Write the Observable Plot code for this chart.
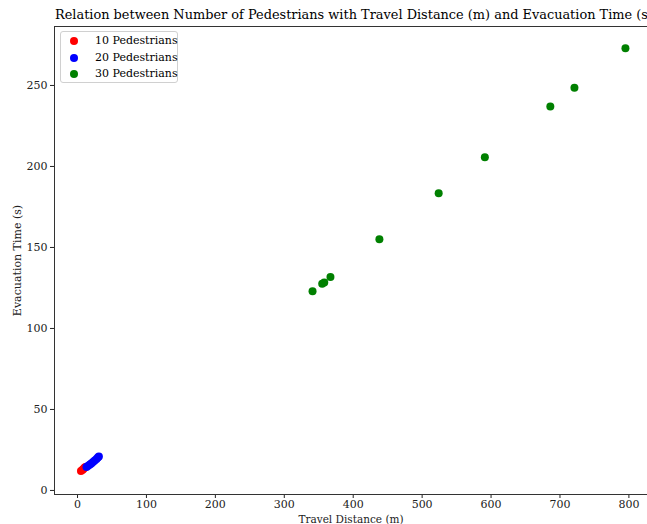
<!DOCTYPE html>
<html>
<head>
<meta charset="utf-8">
<script src="https://cdn.jsdelivr.net/npm/d3@7"></script>
<script src="https://cdn.jsdelivr.net/npm/@observablehq/plot@0.6"></script>
<style>
  html, body { margin: 0; padding: 0; background: #fff; }
  #wrap { position: relative; width: 647px; height: 524px; overflow: hidden; font-family: "DejaVu Serif", serif; }
  #title { position: absolute; left: 55px; top: 7px; font-size: 12.9px; white-space: nowrap; color: #000; }
  #legend { position: absolute; left: 60px; top: 31px; width: 116px; height: 50px; border: 1px solid #d0d0d0; border-radius: 3px; background: rgba(255,255,255,0.8); font-size: 11px; }
  .item { position: absolute; left: 0; height: 14px; line-height: 14px; white-space: nowrap; }
  .item .sw { position: absolute; left: 9px; top: 3px; width: 8px; height: 8px; border-radius: 50%; }
  .item .lb { position: absolute; left: 34px; top: 0; color: #000; }
</style>
</head>
<body>
<div id="wrap">
  <div id="chart"></div>
  <div id="title"></div>
  <div id="legend"></div>
</div>
<script>
// ---- data ----
const titleText = "Relation between Number of Pedestrians with Travel Distance (m) and Evacuation Time (s)";
const seriesNames = ["10 Pedestrians", "20 Pedestrians", "30 Pedestrians"];
const seriesColors = ["red", "blue", "green"];

const dist10 = [5, 7, 8.5, 10, 11.5];
const time10 = [12, 12.7, 13.3, 14, 14.5];

const dist20 = [13, 15.5, 18, 20, 22.5, 25, 27.5, 29.5, 31];
const time20 = [14.5, 15.3, 16, 16.6, 17.5, 18.5, 19.4, 20.3, 21];

const dist30 = [341, 355, 358, 367, 438, 524, 591, 686, 721, 795];
const time30 = [123, 127.6, 128.3, 131.7, 155, 183.5, 205.7, 237, 248.6, 273];

const xTicks = [0, 100, 200, 300, 400, 500, 600, 700, 800];
const yTicks = [0, 50, 100, 150, 200, 250];
const xDomain = [-33.4, 827];
const yDomain = [-2.5, 286.4];

// ---- build table ----
const rows = [];
[[dist10, time10], [dist20, time20], [dist30, time30]].forEach(([xs, ys], i) => {
  xs.forEach((x, j) => rows.push({series: seriesNames[i], dist: x, time: ys[j]}));
});

const chart = Plot.plot({
  width: 647,
  height: 524,
  marginLeft: 54,
  marginRight: 0,
  marginTop: 26,
  marginBottom: 30,
  style: { fontFamily: "DejaVu Serif, serif", fontSize: "11px", color: "#222", background: "white" },
  x: { domain: xDomain, ticks: xTicks, tickSize: 4, tickPadding: 2, label: "Travel Distance (m)", labelAnchor: "center", labelOffset: 28, labelArrow: "none" },
  y: { domain: yDomain, ticks: yTicks, tickSize: 4, tickPadding: 3, label: "Evacuation Time (s)", labelAnchor: "center", labelOffset: 41, labelArrow: "none" },
  color: { domain: seriesNames, range: seriesColors },
  marks: [
    Plot.ruleX([xDomain[0]], { stroke: "#333", strokeWidth: 1 }),
    Plot.ruleY([yDomain[0]], { stroke: "#333", strokeWidth: 1 }),
    Plot.ruleY([yDomain[1]], { stroke: "#333", strokeWidth: 1 }),
    Plot.dot(rows, { x: "dist", y: "time", fill: "series", r: 4, stroke: null })
  ]
});
document.getElementById("chart").appendChild(chart);
document.getElementById("title").textContent = titleText;

// x-axis label font slightly smaller to keep it clear of tick labels
chart.querySelectorAll("[aria-label='x-axis label'] text, [aria-label='x-axis label']").forEach(el => {
  if (el.tagName === "text" || el.tagName === "g") el.setAttribute("font-size", "10.5");
});

const legend = document.getElementById("legend");
seriesNames.forEach((name, i) => {
  const item = document.createElement("div");
  item.className = "item";
  item.style.top = (2 + i * 16.5) + "px";
  item.style.width = "116px";
  const sw = document.createElement("span");
  sw.className = "sw";
  sw.style.background = seriesColors[i];
  const lb = document.createElement("span");
  lb.className = "lb";
  lb.textContent = name;
  item.appendChild(sw);
  item.appendChild(lb);
  legend.appendChild(item);
});
</script>
</body>
</html>
